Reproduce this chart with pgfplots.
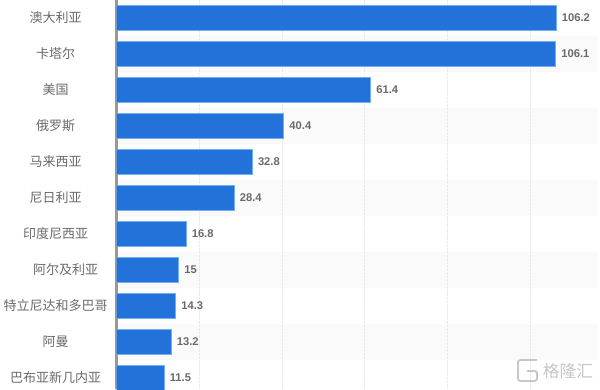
\documentclass[border=0pt]{standalone}
\usepackage{pgfplots}
\pgfplotsset{compat=1.18}
\usepackage{fontspec}
\setmainfont{Liberation Sans}
\newfontfamily\cjk{Noto Sans CJK SC}
\definecolor{barblue}{HTML}{2272DA}
\definecolor{baredge}{HTML}{6FB0F0}
\definecolor{stripe}{HTML}{FAFAFA}
\definecolor{gridc}{HTML}{E8E8E8}
\definecolor{lab}{HTML}{6A6A6A}
\definecolor{axl}{HTML}{989898}
\pgfplotstableread{
y val
0 106.2
1 106.1
2 61.4
3 40.4
4 32.8
5 28.4
6 16.8
7 15
8 14.3
9 13.2
10 11.5
}\bars
\pgfplotstableread{
y val
1 116.2
3 116.2
5 116.2
7 116.2
9 116.2
}\stripes
\begin{document}
\begin{tikzpicture}
\begin{axis}[
  set layers,
  at={(116.5pt,0pt)}, anchor=south west,
  scale only axis, width=483.5pt, height=389pt,
  xmin=0, xmax=116.8,
  ymin=-0.5, ymax=10.306, y dir=reverse,
  axis x line*=bottom, axis y line*=left,
  x axis line style={draw=none},
  y axis line style={draw=axl, line width=2.4pt, -},
  xtick={20,40,60,80,100}, xticklabels={},
  xmajorgrids, major grid style={gridc, densely dotted, line width=0.8pt},
  ytick={0,...,10},
  yticklabels={澳大利亚,卡塔尔,美国,俄罗斯,马来西亚,尼日利亚,印度尼西亚,\hspace*{20pt}阿尔及利亚,特立尼达和多巴哥,阿曼,巴布亚新几内亚},
  major tick length=0pt,
  yticklabel style={font=\cjk\fontsize{13}{15}\selectfont, text=lab, text width=111.4pt, align=center, anchor=east, inner sep=0pt, xshift=-5pt},
  clip=true,
]
\addplot[on layer=axis background, xbar, bar shift=0pt, bar width=36pt, fill=stripe, draw=none] table[x=val,y=y]{\stripes};
\addplot[xbar, bar shift=0pt, bar width=25pt, fill=barblue, draw=baredge, line width=0.8pt,
  nodes near coords, point meta=x,
  every node near coord/.append style={font=\bfseries\fontsize{11.2}{13}\selectfont, text=lab, anchor=west, xshift=2pt, /pgf/number format/assume math mode=true}
] table[x=val,y=y]{\bars};
\end{axis}
\node[anchor=center, font=\cjk\fontsize{16.7}{19}\selectfont, text=black!22] at (568pt,18pt) {格隆汇};
\draw[black!22, line width=1.8pt, rounded corners=2.5pt] (537pt,29pt) -- (518pt,29pt) -- (518pt,8pt) -- (537pt,8pt) -- (537pt,18pt) -- (527pt,18pt);
\pgfresetboundingbox
\path[use as bounding box] (0pt,0pt) rectangle (600pt,389pt);
\end{tikzpicture}
\end{document}
